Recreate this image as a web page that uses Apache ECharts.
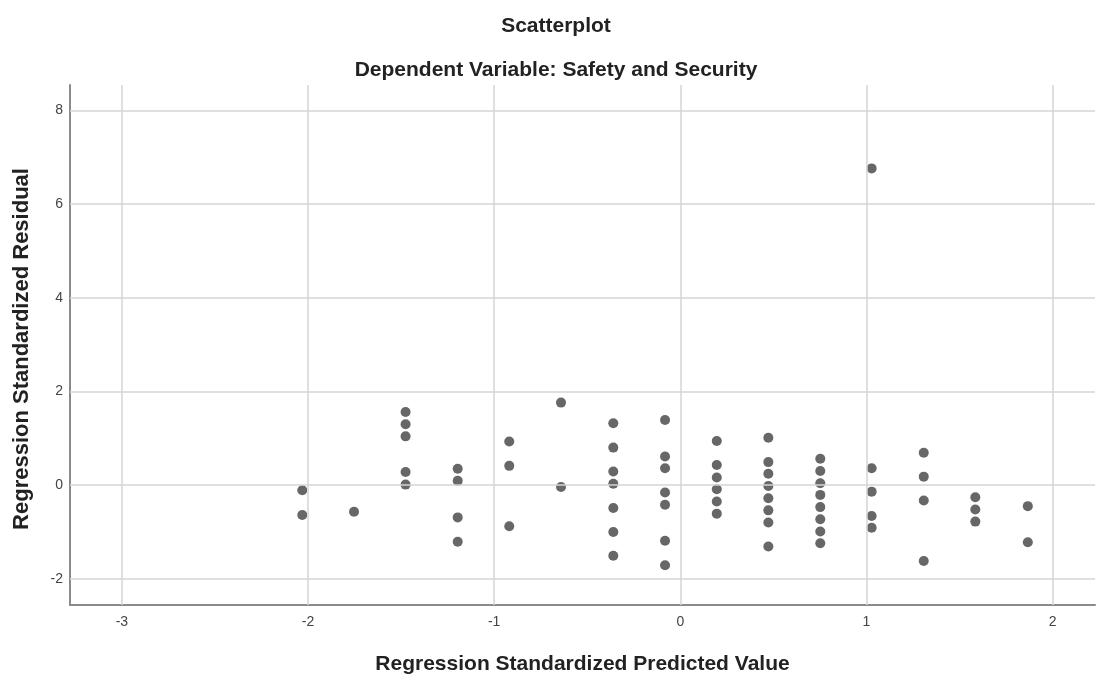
<!DOCTYPE html>
<html>
<head>
<meta charset="utf-8">
<script src="https://cdn.jsdelivr.net/npm/echarts@6/dist/echarts.min.js"></script>
<style>
  html, body { margin: 0; padding: 0; background: #ffffff; }
  #chart { width: 1097px; height: 675px; }
</style>
</head>
<body>
<div id="chart"></div>
<script>
// Predicted value levels (x) and the standardized residuals observed at each level (y)
const predictedLevels = [-2.031, -1.753, -1.476, -1.196, -0.919, -0.641, -0.360, -0.082, 0.196, 0.473, 0.752, 1.028, 1.308, 1.585, 1.867];
const residualsByLevel = [
  [-0.11, -0.64],
  [-0.57],
  [1.56, 1.30, 1.04, 0.28, 0.01],
  [0.35, 0.09, -0.69, -1.21],
  [0.93, 0.41, -0.88],
  [1.76, -0.04],
  [1.32, 0.80, 0.29, 0.03, -0.49, -1.00, -1.51],
  [1.39, 0.61, 0.36, -0.16, -0.42, -1.19, -1.71],
  [0.94, 0.43, 0.16, -0.09, -0.35, -0.61],
  [1.01, 0.49, 0.24, -0.02, -0.28, -0.54, -0.80, -1.31],
  [0.56, 0.30, 0.04, -0.21, -0.47, -0.73, -0.99, -1.24],
  [6.76, 0.36, -0.14, -0.66, -0.91],
  [0.69, 0.18, -0.33, -1.62],
  [-0.26, -0.52, -0.78],
  [-0.45, -1.22]
];
const xTicks = [-3, -2, -1, 0, 1, 2];
const yTicks = [-2, 0, 2, 4, 6, 8];

const titleText = 'Scatterplot';
const subtitleText = 'Dependent Variable: Safety and Security';
const xAxisTitle = 'Regression Standardized Predicted Value';
const yAxisTitle = 'Regression Standardized Residual';

const points = [];
predictedLevels.forEach((x, i) => {
  residualsByLevel[i].forEach(y => points.push([x, y]));
});

const gridColor = '#d4d4d4';
const axisColor = '#8a8a8a';
const FONT = '"Liberation Sans", Arial, sans-serif';

const chart = echarts.init(document.getElementById('chart'), null, { renderer: 'canvas' });
chart.setOption({
  animation: false,
  backgroundColor: '#ffffff',
  title: [
    {
      text: titleText,
      left: 551, textAlign: 'center', top: 11,
      textStyle: { fontFamily: FONT, fontSize: 21, fontWeight: 'bold', color: '#222' }
    },
    {
      text: subtitleText,
      left: 551, textAlign: 'center', top: 55,
      textStyle: { fontFamily: FONT, fontSize: 21, fontWeight: 'bold', color: '#222' }
    }
  ],
  grid: { left: 70, right: 2, top: 85, bottom: 70, containLabel: false, outerBoundsMode: 'none' },
  xAxis: {
    type: 'value',
    min: -3.279, max: 2.228,
    name: xAxisTitle,
    nameLocation: 'middle',
    nameGap: 49,
    nameTextStyle: { fontFamily: FONT, fontSize: 21, fontWeight: 'bold', color: '#222' },
    axisLine: { show: true, onZero: false, lineStyle: { color: axisColor, width: 2 } },
    axisTick: { show: false },
    splitLine: { show: false },
    axisLabel: {
      customValues: xTicks,
      margin: 10,
      fontFamily: FONT, fontSize: 14, color: '#444'
    }
  },
  yAxis: {
    type: 'value',
    min: -2.56, max: 8.54,
    name: yAxisTitle,
    nameLocation: 'middle',
    nameGap: 37,
    nameTextStyle: { fontFamily: FONT, fontSize: 22, fontWeight: 'bold', color: '#222', padding: [0, 8, 0, 0] },
    axisLine: { show: true, onZero: false, lineStyle: { color: axisColor, width: 2 } },
    axisTick: { show: false },
    splitLine: { show: false },
    axisLabel: {
      customValues: yTicks,
      margin: 7,
      fontFamily: FONT, fontSize: 14, color: '#444'
    }
  },
  series: [
    {
      type: 'scatter',
      data: [],
      z: 1,
      silent: true,
      markLine: {
        silent: true,
        symbol: ['none', 'none'],
        label: { show: false },
        lineStyle: { type: 'solid', color: gridColor, width: 1.5 },
        data: xTicks.map(v => ({ xAxis: v })).concat(yTicks.map(v => ({ yAxis: v })))
      }
    },
    {
      type: 'scatter',
      data: points,
      z: 3,
      symbol: 'circle',
      symbolSize: 10,
      itemStyle: { color: '#676767', opacity: 1 }
    }
  ]
});
</script>
</body>
</html>
